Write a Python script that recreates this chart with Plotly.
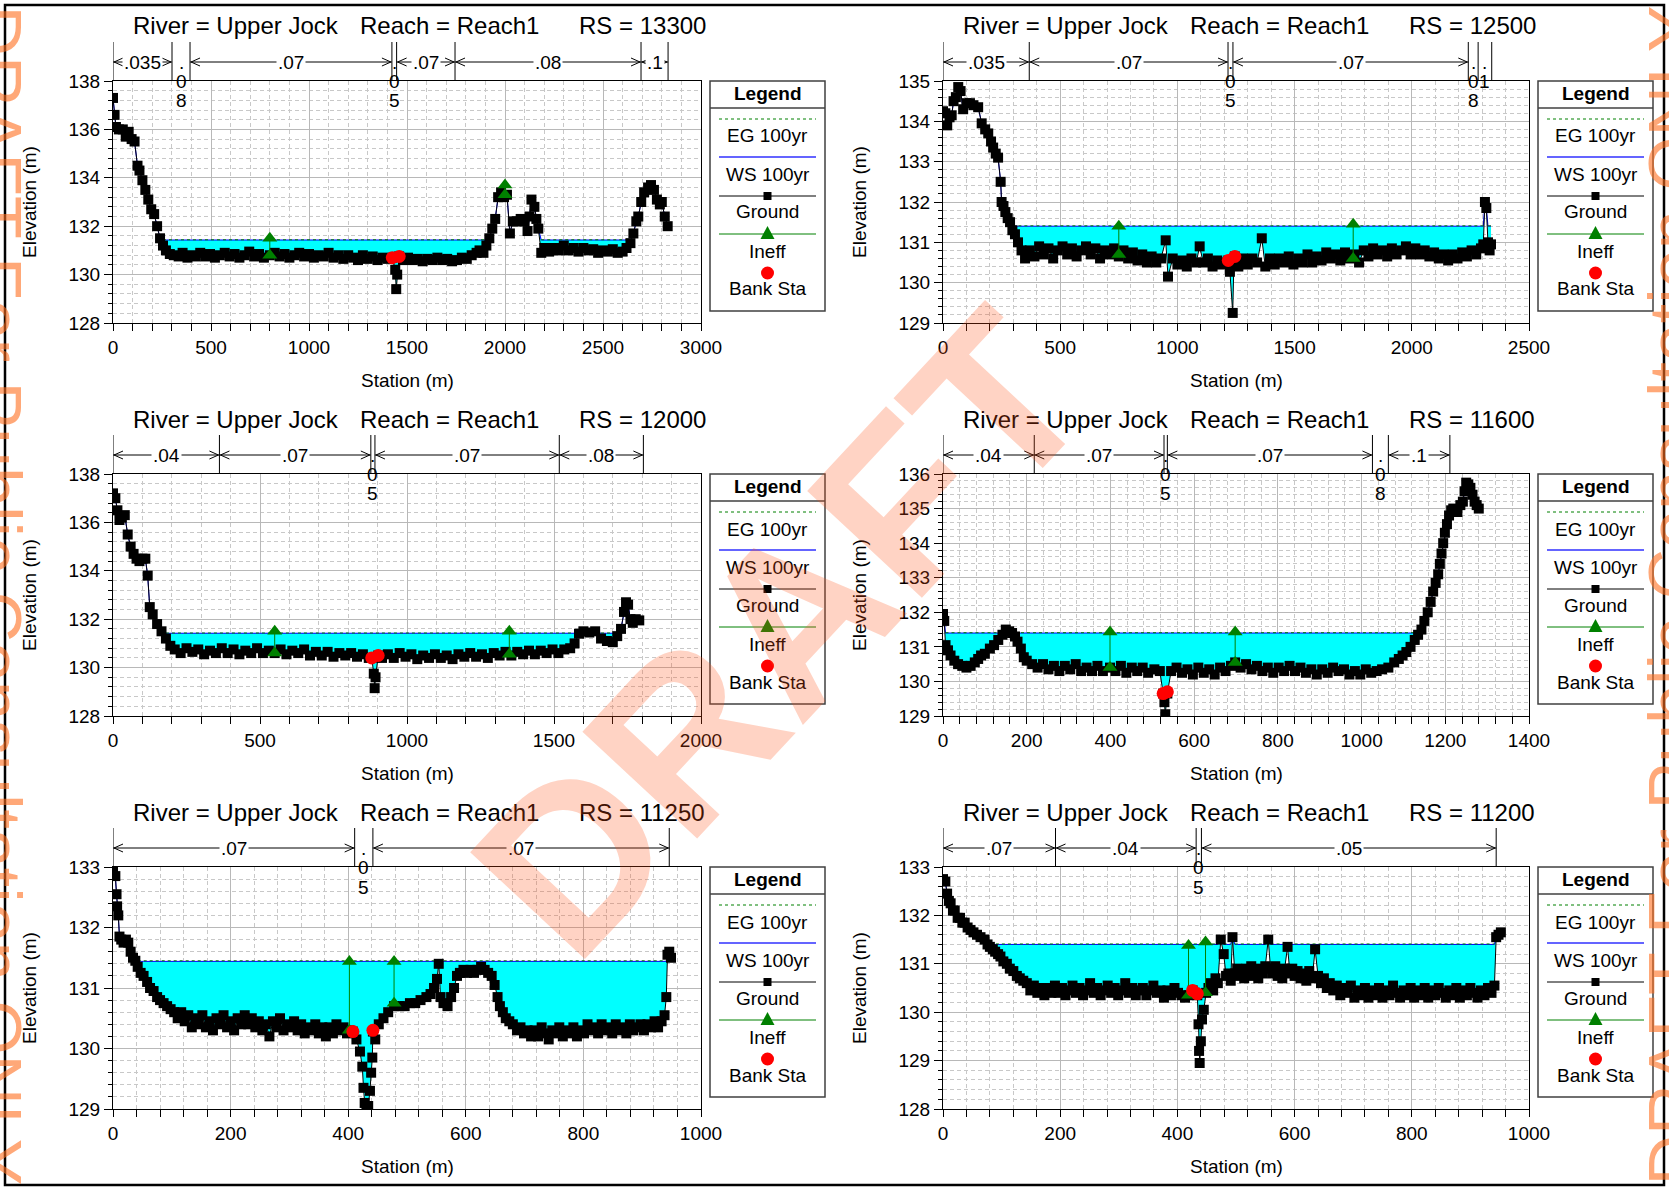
import numpy as np
import plotly.graph_objects as go

W, H = 1669, 1191
FONT = "Liberation Sans, Arial, sans-serif"

# ---------------------------------------------------------------- data
# ground profiles: (station m, elevation m)
ground_13300 = [
    (0, 137.3), (8, 136.6), (15, 136.1), (30, 136.0), (50, 136.0), (65, 135.7), (80, 135.9),
    (95, 135.6), (110, 135.5), (125, 134.5), (135, 134.3), (150, 133.9), (165, 133.5),
    (180, 133.1), (195, 132.7), (210, 132.5), (225, 132.0), (240, 131.5), (255, 131.2),
    (270, 131.0), (290, 130.85), (310, 130.8), (335, 130.75), (355, 130.9), (380, 130.7),
    (400, 130.8), (420, 130.75), (445, 130.9), (470, 130.75), (495, 130.85), (520, 130.7),
    (545, 130.8), (570, 130.9), (595, 130.75), (620, 130.85), (645, 130.7), (670, 130.8),
    (695, 130.95), (720, 130.75), (745, 130.85), (770, 130.7), (800, 130.8), (825, 130.9),
    (850, 130.75), (875, 130.85), (900, 130.7), (925, 130.8), (950, 130.9), (975, 130.75),
    (1000, 130.85), (1025, 130.7), (1050, 130.8), (1075, 130.75), (1100, 130.9), (1125, 130.7),
    (1150, 130.8), (1175, 130.65), (1200, 130.8), (1225, 130.7), (1250, 130.6), (1275, 130.8),
    (1300, 130.65), (1325, 130.75), (1350, 130.6), (1375, 130.7), (1400, 130.65), (1425, 130.7),
    (1440, 130.2), (1445, 129.4), (1450, 130.0), (1460, 130.75), (1480, 130.6), (1505, 130.7),
    (1530, 130.6), (1555, 130.65), (1580, 130.55), (1605, 130.65), (1630, 130.6), (1655, 130.7),
    (1680, 130.6), (1705, 130.65), (1730, 130.55), (1755, 130.6), (1780, 130.7), (1805, 130.65),
    (1830, 130.8), (1855, 130.9), (1870, 131.0), (1890, 130.9), (1905, 131.2), (1920, 131.5),
    (1935, 131.9), (1950, 132.3), (1965, 133.2), (1980, 133.4), (1995, 133.2), (2010, 133.3),
    (2025, 131.7), (2040, 132.2), (2060, 132.2), (2080, 132.3), (2100, 132.2), (2115, 131.8),
    (2125, 132.4), (2135, 133.1), (2150, 132.8), (2160, 132.3), (2170, 131.9), (2185, 130.9),
    (2200, 131.1), (2225, 130.95), (2250, 131.1), (2275, 131.0), (2300, 131.2), (2325, 131.0),
    (2350, 131.1), (2375, 130.95), (2400, 131.1), (2425, 131.0), (2450, 131.05), (2475, 130.9),
    (2500, 131.0), (2525, 130.95), (2550, 131.05), (2575, 130.9), (2600, 130.95), (2620, 131.1),
    (2640, 131.3), (2655, 131.7), (2670, 132.2), (2680, 132.4), (2695, 133.0), (2710, 133.4),
    (2730, 133.6), (2745, 133.7), (2760, 133.5), (2775, 133.1), (2790, 132.9), (2800, 133.0),
    (2815, 132.4), (2830, 132.0),
]

ground_12500 = [
    (0, 134.25), (10, 134.2), (18, 133.9), (28, 134.1), (37, 134.15), (45, 134.5), (55, 134.6),
    (65, 134.85), (75, 134.75), (86, 134.3), (100, 134.45), (115, 134.45), (130, 134.4),
    (150, 134.35), (165, 133.95), (180, 133.8), (193, 133.7), (205, 133.5), (214, 133.35),
    (225, 133.2), (235, 133.1), (246, 132.5), (250, 132.0), (258, 131.9), (266, 131.75),
    (276, 131.6), (286, 131.5), (296, 131.3), (307, 131.2), (320, 131.0), (335, 130.8),
    (350, 130.6), (370, 130.8), (390, 130.65), (410, 130.9), (430, 130.7), (450, 130.85),
    (470, 130.6), (490, 130.8), (510, 130.9), (530, 130.7), (550, 130.85), (570, 130.65),
    (590, 130.8), (610, 130.9), (630, 130.7), (650, 130.85), (670, 130.6), (690, 130.8),
    (710, 130.7), (730, 130.85), (750, 130.65), (770, 130.8), (790, 130.6), (810, 130.75),
    (830, 130.55), (850, 130.7), (870, 130.5), (890, 130.65), (910, 130.5), (930, 130.6),
    (950, 131.05), (960, 130.15), (980, 130.6), (1000, 130.45), (1020, 130.55), (1040, 130.4),
    (1060, 130.6), (1080, 130.5), (1095, 130.9), (1110, 130.5), (1130, 130.6), (1150, 130.4),
    (1170, 130.55), (1190, 130.45), (1210, 130.5), (1217, 130.55), (1224, 130.27),
    (1236, 129.25), (1241, 130.5), (1245, 130.65), (1260, 130.4), (1280, 130.6), (1300, 130.45),
    (1320, 130.6), (1340, 130.5), (1360, 131.1), (1375, 130.4), (1395, 130.6), (1415, 130.45),
    (1435, 130.6), (1455, 130.5), (1475, 130.65), (1495, 130.45), (1515, 130.6), (1535, 130.5),
    (1555, 130.7), (1575, 130.5), (1595, 130.65), (1615, 130.55), (1635, 130.75), (1655, 130.6),
    (1675, 130.7), (1695, 130.55), (1715, 130.75), (1735, 130.6), (1755, 130.7), (1775, 130.5),
    (1795, 130.8), (1815, 130.65), (1835, 130.85), (1855, 130.7), (1875, 130.8), (1895, 130.65),
    (1915, 130.85), (1935, 130.7), (1955, 130.8), (1975, 130.9), (1995, 130.7), (2015, 130.85),
    (2035, 130.7), (2055, 130.8), (2075, 130.65), (2095, 130.75), (2115, 130.6), (2135, 130.7),
    (2155, 130.55), (2175, 130.7), (2195, 130.6), (2215, 130.75), (2235, 130.65), (2255, 130.8),
    (2275, 130.7), (2295, 130.85), (2305, 130.95), (2312, 132.0), (2318, 131.85), (2325, 131.0),
    (2332, 130.8), (2338, 130.95),
]

ground_12000 = [
    (0, 137.2), (8, 137.0), (15, 136.5), (22, 136.1), (30, 136.2), (40, 136.3), (50, 135.5),
    (60, 135.0), (70, 134.7), (80, 134.5), (90, 134.4), (100, 134.5), (110, 134.5), (118, 133.8),
    (125, 132.5), (135, 132.2), (150, 131.8), (165, 131.5), (180, 131.2), (195, 130.9),
    (210, 130.75), (230, 130.6), (250, 130.8), (270, 130.65), (290, 130.75), (310, 130.55),
    (330, 130.7), (350, 130.6), (370, 130.8), (390, 130.6), (410, 130.75), (430, 130.55),
    (450, 130.7), (470, 130.6), (490, 130.8), (510, 130.6), (530, 130.7), (550, 130.6),
    (570, 130.75), (590, 130.55), (610, 130.7), (630, 130.6), (650, 130.75), (670, 130.5),
    (690, 130.65), (710, 130.5), (730, 130.65), (750, 130.45), (770, 130.6), (790, 130.5),
    (810, 130.6), (830, 130.45), (850, 130.55), (870, 130.4), (880, 130.4), (887, 129.75),
    (890, 129.15), (893, 129.6), (902, 130.5), (915, 130.4), (935, 130.55), (955, 130.4),
    (975, 130.6), (995, 130.45), (1015, 130.55), (1035, 130.35), (1055, 130.5), (1075, 130.4),
    (1095, 130.55), (1115, 130.4), (1135, 130.5), (1155, 130.35), (1175, 130.55), (1195, 130.45),
    (1215, 130.6), (1235, 130.45), (1255, 130.55), (1275, 130.4), (1295, 130.6), (1315, 130.5),
    (1335, 130.65), (1355, 130.5), (1375, 130.65), (1395, 130.55), (1415, 130.7), (1435, 130.55),
    (1455, 130.7), (1475, 130.6), (1495, 130.75), (1515, 130.6), (1535, 130.75), (1555, 130.8),
    (1570, 131.0), (1585, 131.4), (1600, 131.5), (1620, 131.45), (1640, 131.5), (1660, 131.2),
    (1680, 131.1), (1700, 131.05), (1715, 131.3), (1728, 131.6), (1738, 132.3), (1745, 132.7),
    (1752, 132.6), (1760, 132.0), (1768, 131.85), (1778, 132.0), (1790, 131.95),
]

ground_11600 = [
    (0, 131.95), (3, 131.75), (6, 131.05), (12, 130.9), (18, 130.75), (27, 130.6), (36, 130.5),
    (46, 130.45), (56, 130.4), (66, 130.45), (76, 130.55), (84, 130.65), (91, 130.75),
    (100, 130.8), (112, 130.95), (122, 131.05), (132, 131.2), (142, 131.35), (150, 131.5),
    (158, 131.45), (165, 131.4), (172, 131.3), (178, 131.15), (186, 130.95), (193, 130.7),
    (200, 130.6), (213, 130.5), (226, 130.4), (239, 130.5), (252, 130.35), (265, 130.45),
    (278, 130.3), (291, 130.45), (304, 130.35), (317, 130.5), (330, 130.3), (343, 130.4),
    (356, 130.3), (369, 130.45), (382, 130.3), (399, 130.4), (412, 130.3), (425, 130.45),
    (438, 130.25), (451, 130.4), (464, 130.3), (477, 130.4), (490, 130.25), (505, 130.35),
    (518, 130.3), (526, 129.65), (529, 129.4), (531, 129.05), (536, 129.65), (545, 130.3),
    (558, 130.4), (571, 130.25), (584, 130.35), (597, 130.2), (610, 130.4), (623, 130.25),
    (636, 130.35), (649, 130.2), (662, 130.4), (675, 130.3), (688, 130.45), (698, 130.55),
    (711, 130.4), (724, 130.5), (737, 130.35), (750, 130.45), (763, 130.3), (776, 130.4),
    (789, 130.25), (802, 130.4), (815, 130.3), (828, 130.45), (841, 130.3), (854, 130.4),
    (867, 130.25), (880, 130.35), (893, 130.2), (906, 130.35), (919, 130.25), (932, 130.4),
    (945, 130.3), (958, 130.35), (971, 130.2), (984, 130.3), (997, 130.2), (1010, 130.35),
    (1023, 130.25), (1036, 130.3), (1049, 130.35), (1064, 130.4), (1078, 130.55), (1089, 130.65),
    (1098, 130.75), (1107, 130.85), (1117, 131.0), (1127, 131.2), (1135, 131.35), (1143, 131.5),
    (1150, 131.75), (1158, 132.0), (1165, 132.3), (1171, 132.6), (1177, 132.85), (1183, 133.1),
    (1187, 133.4), (1191, 133.7), (1195, 134.0), (1199, 134.3), (1204, 134.55), (1209, 134.8),
    (1214, 134.95), (1219, 135.0), (1224, 134.95), (1229, 134.9), (1236, 135.1), (1242, 135.2),
    (1246, 135.5), (1250, 135.75), (1255, 135.7), (1260, 135.6), (1265, 135.4), (1270, 135.2),
    (1275, 135.1), (1280, 135.0),
]

ground_11250 = [
    (0, 132.95), (4, 132.85), (6, 132.55), (7, 132.35), (9, 132.2), (11, 131.85), (14, 131.8),
    (18, 131.75), (22, 131.8), (26, 131.75), (30, 131.6), (34, 131.5), (38, 131.45), (42, 131.35),
    (47, 131.25), (52, 131.2), (58, 131.1), (63, 131.0), (69, 130.95), (75, 130.85), (80, 130.8),
    (86, 130.75), (92, 130.7), (98, 130.65), (104, 130.6), (110, 130.5), (116, 130.6),
    (122, 130.45), (128, 130.55), (134, 130.35), (140, 130.5), (146, 130.4), (152, 130.55),
    (158, 130.35), (164, 130.45), (170, 130.3), (176, 130.5), (182, 130.4), (188, 130.55),
    (194, 130.35), (200, 130.45), (206, 130.3), (212, 130.5), (218, 130.4), (224, 130.55),
    (230, 130.4), (236, 130.5), (242, 130.35), (248, 130.45), (254, 130.3), (260, 130.4),
    (266, 130.2), (272, 130.45), (278, 130.35), (284, 130.5), (290, 130.3), (296, 130.4),
    (302, 130.35), (308, 130.45), (314, 130.3), (320, 130.4), (326, 130.25), (332, 130.35),
    (338, 130.3), (344, 130.4), (350, 130.25), (356, 130.35), (362, 130.2), (368, 130.35),
    (374, 130.25), (380, 130.4), (386, 130.3), (392, 130.35), (398, 130.25), (402, 130.3),
    (408, 130.28), (414, 130.15), (420, 129.95), (424, 129.7), (426, 129.35), (428, 129.1),
    (431, 129.0), (434, 129.05), (437, 129.3), (439, 129.6), (441, 129.85), (442, 130.28),
    (446, 130.15), (452, 130.4), (460, 130.5), (468, 130.6), (478, 130.7), (487, 130.7),
    (496, 130.7), (505, 130.75), (514, 130.75), (523, 130.8), (533, 130.85), (540, 130.9),
    (546, 131.0), (551, 131.15), (554, 131.4), (557, 130.85), (562, 130.75), (569, 130.7),
    (575, 130.85), (580, 131.0), (585, 131.2), (590, 131.25), (596, 131.3), (602, 131.25),
    (608, 131.3), (614, 131.25), (620, 131.3), (626, 131.35), (632, 131.3), (638, 131.25),
    (644, 131.2), (649, 131.05), (654, 130.85), (658, 130.7), (663, 130.6), (668, 130.5),
    (674, 130.45), (680, 130.4), (687, 130.3), (693, 130.35), (699, 130.25), (705, 130.3),
    (711, 130.2), (717, 130.3), (723, 130.2), (729, 130.35), (735, 130.25), (741, 130.15),
    (747, 130.3), (753, 130.25), (759, 130.35), (765, 130.2), (771, 130.3), (777, 130.25),
    (783, 130.35), (789, 130.2), (795, 130.3), (801, 130.25), (807, 130.4), (813, 130.3),
    (819, 130.35), (825, 130.25), (831, 130.4), (837, 130.3), (843, 130.35), (849, 130.25),
    (855, 130.4), (861, 130.3), (867, 130.35), (873, 130.25), (879, 130.4), (885, 130.3),
    (891, 130.35), (897, 130.4), (903, 130.3), (909, 130.4), (915, 130.35), (921, 130.45),
    (927, 130.35), (933, 130.45), (938, 130.55), (941, 130.85), (943, 131.55), (946, 131.6),
    (949, 131.5),
]

ground_11200 = [
    (0, 132.75), (4, 132.7), (7, 132.45), (10, 132.3), (13, 132.25), (17, 132.1), (20, 132.1),
    (25, 131.95), (29, 131.95), (33, 131.85), (37, 131.85), (42, 131.75), (47, 131.7),
    (52, 131.65), (58, 131.6), (64, 131.55), (71, 131.5), (76, 131.4), (80, 131.35), (85, 131.3),
    (89, 131.25), (94, 131.2), (98, 131.15), (103, 131.05), (109, 131.0), (114, 130.9),
    (120, 130.85), (126, 130.75), (131, 130.7), (137, 130.65), (143, 130.6), (149, 130.45),
    (155, 130.55), (161, 130.4), (167, 130.5), (173, 130.35), (179, 130.5), (185, 130.4),
    (191, 130.55), (197, 130.4), (203, 130.5), (209, 130.35), (215, 130.45), (221, 130.55),
    (227, 130.4), (233, 130.5), (239, 130.35), (245, 130.45), (251, 130.6), (257, 130.4),
    (263, 130.5), (269, 130.35), (275, 130.45), (281, 130.55), (287, 130.4), (293, 130.5),
    (299, 130.35), (305, 130.45), (311, 130.6), (317, 130.4), (323, 130.5), (329, 130.35),
    (335, 130.45), (341, 130.5), (347, 130.35), (353, 130.45), (359, 130.55), (365, 130.4),
    (371, 130.45), (377, 130.3), (383, 130.45), (389, 130.35), (395, 130.5), (401, 130.4),
    (407, 130.35), (413, 130.3), (419, 130.35), (426, 130.45), (430, 130.4), (434, 130.35),
    (436, 129.75), (437, 129.2), (438, 128.95), (440, 129.4), (442, 129.85), (445, 130.05),
    (449, 130.4), (453, 130.5), (457, 130.6), (461, 130.45), (465, 130.7), (469, 130.6),
    (474, 131.5), (479, 131.2), (483, 130.75), (487, 130.8), (491, 130.65), (494, 131.55),
    (498, 130.8), (502, 130.9), (506, 130.75), (510, 130.85), (514, 130.7), (518, 130.9),
    (522, 130.8), (526, 130.95), (530, 130.75), (534, 130.85), (538, 130.7), (542, 130.9),
    (546, 130.8), (550, 130.95), (555, 131.5), (559, 130.9), (563, 130.8), (567, 130.95),
    (571, 130.75), (575, 130.85), (579, 130.7), (583, 130.9), (588, 131.35), (592, 130.8),
    (596, 130.9), (600, 130.75), (605, 130.85), (610, 130.7), (615, 130.8), (620, 130.65),
    (625, 130.85), (630, 130.7), (635, 131.3), (640, 130.75), (645, 130.6), (650, 130.7),
    (655, 130.5), (660, 130.6), (666, 130.45), (672, 130.55), (678, 130.35), (684, 130.5),
    (690, 130.4), (696, 130.55), (702, 130.3), (708, 130.45), (714, 130.35), (720, 130.5),
    (726, 130.3), (732, 130.45), (738, 130.35), (744, 130.5), (750, 130.3), (756, 130.45),
    (762, 130.35), (768, 130.55), (774, 130.4), (780, 130.3), (786, 130.45), (792, 130.35),
    (798, 130.5), (804, 130.3), (810, 130.45), (816, 130.35), (822, 130.5), (828, 130.3),
    (834, 130.45), (840, 130.35), (846, 130.5), (852, 130.4), (858, 130.3), (864, 130.45),
    (870, 130.35), (876, 130.5), (882, 130.3), (888, 130.45), (894, 130.35), (900, 130.5),
    (906, 130.4), (912, 130.3), (918, 130.45), (924, 130.35), (930, 130.5), (936, 130.4),
    (941, 130.55), (944, 131.55), (948, 131.6), (952, 131.65),
]

# river stations shown, in panel order (row by row, left to right)
river_stations = ["13300", "12500", "12000", "11600", "11250", "11200"]
grounds = [ground_13300, ground_12500, ground_12000, ground_11600, ground_11250, ground_11200]

# 100-yr water surface and energy grade elevations
ws_100yr = [131.43, 131.40, 131.42, 131.40, 131.44, 131.40]
eg_100yr = [131.44, 131.41, 131.43, 131.41, 131.45, 131.41]

# ineffective flow markers: station, lower elevation, upper elevation
ineff_sta = [[800, 2000], [750, 1750], [550, 1348], [399, 698], [402, 478], [419, 448]]
ineff_low = [[130.8, 133.3], [130.7, 130.6], [130.6, 130.55], [130.4, 130.55], [130.3, 130.75], [130.35, 130.4]]
ineff_high = [[131.5, 133.7], [131.4, 131.45], [131.5, 131.5], [131.43, 131.43], [131.44, 131.44], [131.38, 131.45]]

# bank stations
bank_sta = [[1425, 1460], [1217, 1245], [880, 902], [526, 536], [408, 442], [426, 434]]
bank_elev = [[130.7, 130.75], [130.55, 130.65], [130.4, 130.5], [129.65, 129.7], [130.28, 130.3], [130.45, 130.38]]

# Manning's n breakpoints and values
n_breaks = [
    [0, 301, 393, 1423, 1447, 1745, 2694, 2832],
    [0, 368, 1216, 1237, 2241, 2283, 2341],
    [0, 362, 877, 891, 1518, 1804],
    [0, 218, 528, 536, 1026, 1064, 1211],
    [0, 411, 442, 946],
    [0, 192, 432, 441, 944],
]
n_values = [
    [".035", ".08", ".07", ".05", ".07", ".08", ".1"],
    [".035", ".07", ".05", ".07", ".08", ".1"],
    [".04", ".07", ".05", ".07", ".08"],
    [".04", ".07", ".05", ".07", ".08", ".1"],
    [".07", ".05", ".07"],
    [".07", ".04", ".05", ".05"],
]

# axis ranges and tick spacing
x_ranges = [[0, 3000], [0, 2500], [0, 2000], [0, 1400], [0, 1000], [0, 1000]]
x_dticks = [500, 500, 500, 200, 200, 200]
y_ranges = [[128, 138], [129, 135], [128, 138], [129, 136], [129, 133], [128, 133]]
y_dticks = [2, 1, 2, 1, 1, 1]

legend_items = ["EG 100yr", "WS 100yr", "Ground", "Ineff", "Bank Sta"]

# ---------------------------------------------------------------- layout helpers
COL_X = [(113, 701), (943, 1529)]
ROW_TOP = [81, 474, 867]
PLOT_H = 242
LEG_W = (9, 124)   # legend box offset from plot right edge


def px(x):
    return x / W


def py(y):
    return 1 - y / H


def text_w(s):
    return sum(5.3 if ch == "." else 10.6 for ch in s)


def label(x, y, text, size=19, xref="paper", yref="paper", **kw):
    d = dict(x=x, y=y, xref=xref, yref=yref, text=text, showarrow=False,
             xanchor="center", yanchor="middle", font=dict(size=size, color="black"))
    d.update(kw)
    return d


fig = go.Figure()
shapes = []
annotations = []
layout_axes = {}

for i, rs in enumerate(river_stations):
    col, row = i % 2, i // 2
    x0, x1 = COL_X[col]
    top = ROW_TOP[row]
    bot = top + PLOT_H
    sfx = "" if i == 0 else str(i + 1)
    xref, yref = "x" + sfx, "y" + sfx

    grid_major = dict(showgrid=True, gridcolor="#B8B8B8", gridwidth=1)
    layout_axes["xaxis" + sfx] = dict(
        domain=[px(x0), px(x1)], anchor=yref, range=x_ranges[i], dtick=x_dticks[i], tick0=0,
        ticks="outside", ticklen=7, tickcolor="black", showline=True, linecolor="black",
        linewidth=1, mirror=True, zeroline=False, tickfont=dict(size=19, color="black"),
        minor=dict(dtick=x_dticks[i] / 5, tick0=0, showgrid=True, gridcolor="#C8C8C8",
                   griddash="4px,3px", gridwidth=1, ticks="outside", ticklen=7, tickcolor="black"),
        **grid_major,
    )
    layout_axes["yaxis" + sfx] = dict(
        domain=[py(bot), py(top)], anchor=xref, range=y_ranges[i], dtick=y_dticks[i],
        ticks="outside", ticklen=8, tickcolor="black", showline=True, linecolor="black",
        linewidth=1, mirror=True, zeroline=False, tickfont=dict(size=19, color="black"),
        minor=dict(dtick=y_dticks[i] / 5, showgrid=True, gridcolor="#C8C8C8",
                   griddash="4px,3px", gridwidth=1, ticks="outside", ticklen=4, tickcolor="black"),
        **grid_major,
    )

    sta = np.array([p[0] for p in grounds[i]], dtype=float)
    elev = np.array([p[1] for p in grounds[i]], dtype=float)
    ws = ws_100yr[i]
    wet = elev < ws
    upper = np.where(wet, ws, elev)

    # water body between the ground and the water surface
    fig.add_trace(go.Scatter(x=sta, y=elev, mode="lines", line=dict(width=0, color="rgba(0,0,0,0)"),
                             xaxis=xref, yaxis=yref, showlegend=False, hoverinfo="skip"))
    fig.add_trace(go.Scatter(x=sta, y=upper, mode="lines", fill="tonexty", fillcolor="#00FFFF",
                             line=dict(width=1, color="#0000FF"),
                             xaxis=xref, yaxis=yref, showlegend=False, hoverinfo="skip"))
    # energy grade line
    fig.add_trace(go.Scatter(x=sta, y=np.where(wet, eg_100yr[i], np.nan), mode="lines",
                             line=dict(width=1, color="#008000", dash="dot"), connectgaps=False,
                             xaxis=xref, yaxis=yref, showlegend=False, hoverinfo="skip"))
    # ground
    fig.add_trace(go.Scatter(x=sta, y=elev, mode="lines+markers",
                             line=dict(width=1, color="black"),
                             marker=dict(symbol="square", size=10, color="black"),
                             xaxis=xref, yaxis=yref, showlegend=False))
    # ineffective flow areas
    ix, iy = [], []
    for s, lo, hi in zip(ineff_sta[i], ineff_low[i], ineff_high[i]):
        ix += [s, s, None]
        iy += [lo, hi, None]
    fig.add_trace(go.Scatter(x=ix, y=iy, mode="lines+markers",
                             line=dict(width=1, color="#008000"),
                             marker=dict(symbol="triangle-up", size=13, color="#008000"),
                             xaxis=xref, yaxis=yref, showlegend=False))
    # bank stations
    fig.add_trace(go.Scatter(x=bank_sta[i], y=bank_elev[i], mode="markers",
                             marker=dict(symbol="circle", size=13, color="#FF0000"),
                             xaxis=xref, yaxis=yref, showlegend=False))

    # Manning's n strip above the plot
    arrow_y = top - 19
    xr0, xr1 = x_ranges[i]
    for b in n_breaks[i]:
        shapes.append(dict(type="line", xref=xref, yref="paper", x0=b, x1=b,
                           ysizemode="pixel", yanchor=py(top), y0=0, y1=39,
                           line=dict(color="black", width=1)))
    for k, lab in enumerate(n_values[i]):
        a, b = n_breaks[i][k], n_breaks[i][k + 1]
        wpx = (b - a) / (xr1 - xr0) * (x1 - x0)
        mid = (a + b) / 2
        if wpx >= text_w(lab) + 8:
            shapes.append(dict(type="line", xref=xref, yref="paper", x0=a, x1=b,
                               y0=py(arrow_y), y1=py(arrow_y), line=dict(color="black", width=1)))
            shapes.append(dict(type="path", xref=xref, yref="paper", xsizemode="pixel",
                               ysizemode="pixel", xanchor=a, yanchor=py(arrow_y),
                               path="M 10,4 L 1,0 L 10,-4", line=dict(color="black", width=1)))
            shapes.append(dict(type="path", xref=xref, yref="paper", xsizemode="pixel",
                               ysizemode="pixel", xanchor=b, yanchor=py(arrow_y),
                               path="M -10,4 L -1,0 L -10,-4", line=dict(color="black", width=1)))
            annotations.append(label(mid, py(arrow_y), lab, xref=xref, bgcolor="white", borderpad=1))
        else:
            for j, ch in enumerate(lab):
                annotations.append(label(mid, py(arrow_y + 19.5 * j), ch, xref=xref))

    # panel title
    off = 830 * col
    ty = 26 + 393 * row
    for cx, txt in [(236, "River = Upper Jock"), (449, "Reach = Reach1"), (642, "RS = " + rs)]:
        annotations.append(label(px(cx + off), py(ty), txt, size=24))

    # axis titles
    annotations.append(label(px(29 + off), py((top + bot) / 2), "Elevation (m)", textangle=-90))
    annotations.append(label(px((x0 + x1) / 2), py(bot + 57), "Station (m)"))

    # legend box
    lx0, lx1 = x1 + LEG_W[0], x1 + LEG_W[1]
    lcx = (lx0 + lx1) / 2
    shapes.append(dict(type="rect", xref="paper", yref="paper", x0=px(lx0), x1=px(lx1),
                       y0=py(top), y1=py(top + 230), line=dict(color="#404040", width=1.5),
                       fillcolor="white", layer="above"))
    shapes.append(dict(type="line", xref="paper", yref="paper", x0=px(lx0), x1=px(lx1),
                       y0=py(top + 27), y1=py(top + 27), line=dict(color="#404040", width=1.5),
                       layer="above"))
    annotations.append(label(px(lcx), py(top + 12), "<b>Legend</b>"))
    ll0, ll1 = lx0 + 9, lx1 - 9
    sym_y = [top + 38, top + 76, top + 115, top + 153, top + 192]
    txt_y = [top + 55, top + 93, top + 131, top + 170, top + 208]
    line_styles = [dict(color="#008000", width=1, dash="dot"), dict(color="#3030FF", width=1.5),
                   dict(color="black", width=1), dict(color="#008000", width=1), None]
    for k, name in enumerate(legend_items):
        if line_styles[k] is not None:
            shapes.append(dict(type="line", xref="paper", yref="paper", x0=px(ll0), x1=px(ll1),
                               y0=py(sym_y[k]), y1=py(sym_y[k]), line=line_styles[k], layer="above"))
        annotations.append(label(px(lcx), py(txt_y[k]), name))
    shapes.append(dict(type="rect", xref="paper", yref="paper", xsizemode="pixel", ysizemode="pixel",
                       xanchor=px(lcx), yanchor=py(sym_y[2]), x0=-4, x1=4, y0=-4, y1=4,
                       fillcolor="black", line=dict(width=0), layer="above"))
    shapes.append(dict(type="path", xref="paper", yref="paper", xsizemode="pixel", ysizemode="pixel",
                       xanchor=px(lcx), yanchor=py(sym_y[3]), path="M -7,-5 L 7,-5 L 0,8 Z",
                       fillcolor="#008000", line=dict(width=0), layer="above"))
    shapes.append(dict(type="circle", xref="paper", yref="paper", xsizemode="pixel", ysizemode="pixel",
                       xanchor=px(lcx), yanchor=py(sym_y[4]), x0=-6.5, x1=6.5, y0=-6.5, y1=6.5,
                       fillcolor="#FF0000", line=dict(width=0), layer="above"))

# outer frame
shapes.append(dict(type="rect", xref="paper", yref="paper", x0=px(5), x1=px(1664), y0=py(5),
                   y1=py(1185), line=dict(color="black", width=2.5), layer="above"))

# watermark
annotations.append(label(px(780), py(634), "<b>DRAFT</b>", textangle=-47,
                         font=dict(size=228, color="rgba(255,80,20,0.25)", family=FONT)))
edge_txt = "DRAFT For Public Consultation ONLY"
annotations.append(label(px(-4), 0.5, edge_txt, textangle=90,
                         font=dict(size=70, color="rgba(255,110,30,0.6)", family=FONT)))
annotations.append(label(px(1673), 0.5, edge_txt, textangle=-90,
                         font=dict(size=70, color="rgba(255,110,30,0.6)", family=FONT)))

fig.update_layout(
    width=W, height=H, autosize=False,
    margin=dict(l=0, r=0, t=0, b=0, autoexpand=False),
    paper_bgcolor="white", plot_bgcolor="white",
    font=dict(family=FONT, color="black"),
    showlegend=False,
    shapes=shapes,
    annotations=annotations,
    **layout_axes,
)

fig.write_html("out.html",
               post_script="document.body.style.margin='0';document.body.style.overflow='hidden';")
